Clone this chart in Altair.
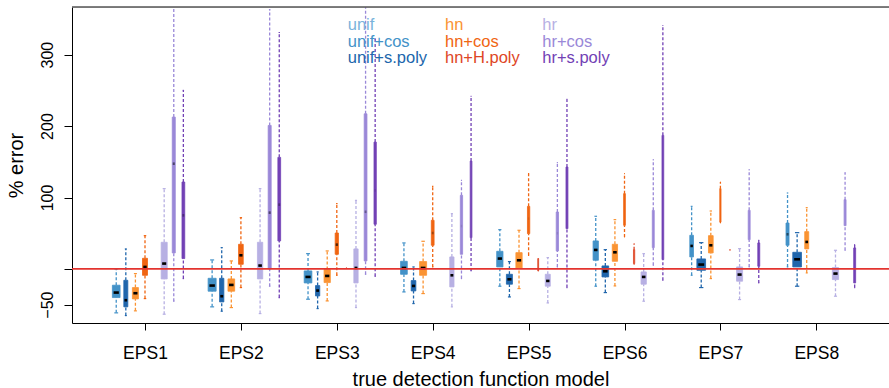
import math
import altair as alt
import pandas as pd

groups = ["EPS1", "EPS2", "EPS3", "EPS4", "EPS5", "EPS6", "EPS7", "EPS8"]
models = ["unif", "unif+cos", "unif+s.poly", "hn", "hn+cos", "hn+H.poly",
          "hr", "hr+cos", "hr+s.poly"]
colors = ["#7ab3db", "#4392c8", "#2066ac", "#fa9332", "#f06512", "#de4626",
          "#b7b0e3", "#9a88d8", "#7241b5"]

N = None
# number of times each model was selected (drives box width)
n_sel = {
    "unif":        [0, 0, 0, 0, 0, 0, 0, 0],
    "unif+cos":    [78, 85, 78, 59, 52, 37, 18, 12],
    "unif+s.poly": [21, 24, 24, 29, 48, 59, 100, 100],
    "hn":          [48, 59, 52, 65, 52, 37, 29, 21],
    "hn+cos":      [33, 29, 14, 10, 7, 4, 2, 0],
    "hn+H.poly":   [0, 0, 1, 0, 1, 2, 1, 0],
    "hr":          [48, 37, 24, 24, 33, 37, 48, 52],
    "hr+cos":      [12, 12, 10, 7, 7, 5, 5, 5],
    "hr+s.poly":   [10, 10, 7, 4, 5, 4, 5, 5],
}
lower = {
    "unif":        [N] * 8,
    "unif+cos":    [-61.5, -53.1, -42.4, -32.2, -24.2, -24.2, -8.9, 2.8],
    "unif+s.poly": [-65.3, -59.2, -55.5, -48.5, -39.2, -33.1, -26.1, -24.2],
    "hn":          [-58.7, -54.1, -44.8, -34.5, -27.5, -23.8, -13.5, -5.6],
    "hn+cos":      [-41.5, -26.1, -8.9, 2.8, 19.1, 44.8, 64.3, N],
    "hn+H.poly":   [N, N, 1.0, N, -2.8, 6.5, 26.6, N],
    "hr":          [-63.4, -62.5, -54.1, -53.1, -47.6, -45.2, -42.9, -38.2],
    "hr+cos":      [-45.2, -24.2, -7.5, -13.5, 2.8, 5.1, 2.8, 26.1],
    "hr+s.poly":   [-13.5, -40.1, -10.3, -2.8, -26.1, -15.9, -19.6, -26.1],
}
q1 = {
    "unif":        [N] * 8,
    "unif+cos":    [-40.1, -31.2, -19.6, -7.5, 2.8, 12.1, 16.8, 33.1],
    "unif+s.poly": [-53.1, -46.2, -37.8, -30.8, -21.4, -11.2, -1.9, 2.8],
    "hn":          [-42.0, -31.2, -19.1, -8.9, 1.4, 10.7, 22.4, 28.0],
    "hn+cos":      [-8.9, 6.5, 20.5, 33.1, 49.4, 61.1, 65.7, N],
    "hn+H.poly":   [N, N, 1.0, N, -2.8, 7.5, 26.6, N],
    "hr":          [-14.0, -14.0, -19.6, -25.2, -24.2, -21.4, -17.2, -14.9],
    "hr+cos":      [22.4, 0.0, 11.2, 20.5, 25.2, 29.8, 41.0, 60.6],
    "hr+s.poly":   [14.5, 39.2, 62.5, 43.8, 56.4, 13.1, 3.7, -19.6],
}
median = {
    "unif":        [N] * 8,
    "unif+cos":    [-33.1, -23.3, -11.2, 1.4, 14.5, 26.6, 32.2, 48.5],
    "unif+s.poly": [-43.8, -38.2, -30.3, -23.8, -14.5, -3.3, 6.1, 13.5],
    "hn":          [-34.0, -22.4, -9.8, 1.4, 12.1, 23.3, 33.1, 37.8],
    "hn+cos":      [2.8, 19.1, 34.0, 50.3, 70.4, 85.0, 90.0, N],
    "hn+H.poly":   [N, N, 1.0, N, 5.0, 18.0, 26.6, N],
    "hr":          [7.5, 4.7, 1.4, -8.9, -16.8, -11.2, -7.9, -6.5],
    "hr+cos":      [147.3, 78.8, 80.0, 60.0, 50.0, 55.0, 60.0, 80.0],
    "hr+s.poly":   [75.0, 90.0, 110.0, 95.0, 95.0, 100.0, 20.0, 5.0],
}
q3 = {
    "unif":        [N] * 8,
    "unif+cos":    [-22.8, -13.1, -2.8, 10.7, 24.7, 39.2, 47.1, 64.3],
    "unif+s.poly": [-15.9, -13.1, -23.3, -16.3, -7.5, 4.2, 14.0, 23.3],
    "hn":          [-26.1, -14.0, -0.9, 10.3, 22.8, 34.5, 46.6, 52.2],
    "hn+cos":      [14.9, 34.5, 50.3, 68.1, 87.6, 105.4, 112.4, N],
    "hn+H.poly":   [N, N, 1.0, N, 14.5, 27.0, 26.6, N],
    "hr":          [37.3, 37.3, 28.0, 16.8, -7.5, -4.2, 2.8, 1.9],
    "hr+cos":      [212.6, 200.9, 217.2, 103.0, 79.7, 82.0, 82.0, 97.0],
    "hr+s.poly":   [121.7, 156.2, 177.6, 151.0, 142.7, 187.0, 36.4, 29.4],
}
upper = {
    "unif":        [N] * 8,
    "unif+cos":    [0.0, 12.6, 21.4, 36.4, 55.0, 73.7, 87.6, 106.3],
    "unif+s.poly": [28.0, 29.8, -4.2, 2.8, 10.3, 27.0, 36.8, 50.8],
    "hn":          [-6.5, 11.2, 25.2, 38.7, 54.1, 69.0, 81.1, 85.8],
    "hn+cos":      [46.6, 71.8, 91.4, 115.6, 133.3, 133.3, 121.7, N],
    "hn+H.poly":   [N, N, 1.0, N, 14.5, 35.4, 26.6, N],
    "hr":          [112.4, 112.4, 96.0, 77.4, 15.9, 21.4, 28.4, 26.1],
    "hr+cos":      [400.0, 363.0, 400.0, 124.0, 148.7, 152.9, 138.9, 134.7],
    "hr+s.poly":   [249.9, 331.0, 322.0, 241.5, 237.3, 340.8, 40.1, 34.0],
}

# ---------------- layout constants ----------------
W, H = 817, 316
SLOTS_PER_GROUP = 10
X_DOMAIN = [-3.612, 81.58]
Y_DOMAIN = [-75.7, 366.7]
BOXWEX = 0.907          # max box width in slot units
FONT = "Liberation Sans"

rows = []
for g, grp in enumerate(groups):
    for k, m in enumerate(models):
        n = n_sel[m][g]
        if not n or q1[m][g] is None:
            continue
        c = g * SLOTS_PER_GROUP + k
        hw = BOXWEX * math.sqrt(n / 100.0) / 2
        rows.append(dict(
            group=grp, model=m, center=c,
            bl=c - hw, br=c + hw,
            sl=c - hw * 0.5, sr=c + hw * 0.5,
            ml=c - hw * 0.68, mr=c + hw * 0.68,
            mop=max(0.0, min(1.0, (n - 6) / 12.0)),
            lower=lower[m][g], q1=q1[m][g], median=median[m][g],
            q3=q3[m][g], upper=upper[m][g],
        ))
df = pd.DataFrame(rows)

xs = alt.Scale(domain=X_DOMAIN, nice=False, zero=False)
ys = alt.Scale(domain=Y_DOMAIN, nice=False, zero=False)
cs = alt.Scale(domain=models, range=colors)

x_axis = alt.Axis(
    values=[g * SLOTS_PER_GROUP + 4 for g in range(len(groups))],
    labelExpr="'EPS' + (floor(datum.value / 10) + 1)",
    title="true detection function model",
    grid=False, tickSize=7, labelPadding=14, labelFontSize=17.5,
    titleFontSize=20, titleFontWeight="normal", titleY=56, titleBaseline="middle",
    domainColor="black", tickColor="black", labelColor="black", titleColor="black",
    labelFont=FONT, titleFont=FONT,
)
y_axis = alt.Axis(
    values=[-50, 0, 100, 200, 300],
    labelExpr="datum.value == 0 ? '' : (datum.value < 0 ? '\u2212' + abs(datum.value) : datum.label)",
    title="% error", grid=False, tickSize=8, labelPadding=17, labelFontSize=16,
    labelAngle=-90, labelAlign="center", labelBaseline="middle",
    titleFontSize=20, titleFontWeight="normal", titleX=-56, titleY=H / 2,
    titleAngle=-90, titleAlign="center", titleBaseline="middle",
    domainColor="black", tickColor="black", labelColor="black", titleColor="black",
    labelFont=FONT, titleFont=FONT,
)

base = alt.Chart(df)
col = alt.Color("model:N", scale=cs, legend=None)

whisk_hi = base.mark_rule(strokeDash=[3, 2], strokeWidth=1.3, clip=True).encode(
    x=alt.X("center:Q", scale=xs, axis=x_axis),
    y=alt.Y("q3:Q", scale=ys, axis=y_axis),
    y2="upper:Q", color=col)
whisk_lo = base.mark_rule(strokeDash=[3, 2], strokeWidth=1.3, clip=True).encode(
    x=alt.X("center:Q", scale=xs), y=alt.Y("lower:Q", scale=ys), y2="q1:Q", color=col)
staple_hi = base.mark_rule(strokeWidth=1.2, clip=True).encode(
    x=alt.X("sl:Q", scale=xs), x2="sr:Q", y=alt.Y("upper:Q", scale=ys), color=col)
staple_lo = base.mark_rule(strokeWidth=1.2, clip=True).encode(
    x=alt.X("sl:Q", scale=xs), x2="sr:Q", y=alt.Y("lower:Q", scale=ys), color=col)
boxes = base.mark_bar(strokeWidth=0.8, clip=True).encode(
    x=alt.X("bl:Q", scale=xs), x2="br:Q",
    y=alt.Y("q1:Q", scale=ys), y2="q3:Q",
    color=col, stroke=alt.Stroke("model:N", scale=cs, legend=None))
medians = base.mark_rule(strokeWidth=2.6, color="black").encode(
    x=alt.X("ml:Q", scale=xs), x2="mr:Q", y=alt.Y("median:Q", scale=ys),
    opacity=alt.Opacity("mop:Q", scale=None))

zero_line = alt.Chart(pd.DataFrame({"v": [0]})).mark_rule(
    color="#e3342f", strokeWidth=1.8).encode(y=alt.Y("v:Q", scale=ys))

top_border = alt.Chart(pd.DataFrame({"v": [0]})).mark_rule(
    color="#555555", strokeWidth=1.5).encode(
    x=alt.value(0), x2=alt.value(W), y=alt.value(0))

leg_rows = []
for i, m in enumerate(models):
    leg_rows.append(dict(model=m, px=275.7 + (i // 3) * 97.3, py=18 + (i % 3) * 16.65))
leg_df = pd.DataFrame(leg_rows)
legend_text = alt.Chart(leg_df).mark_text(
    align="left", baseline="middle", fontSize=16.5, font=FONT).encode(
    x=alt.X("px:Q", scale=None), y=alt.Y("py:Q", scale=None),
    text="model:N", color=col)

chart = alt.layer(
    whisk_hi, whisk_lo, staple_hi, staple_lo, boxes, medians,
    zero_line, top_border, legend_text,
).properties(
    width=W, height=H,
    autosize=alt.AutoSizeParams(type="none"),
    padding={"left": 72, "top": 7, "right": 0, "bottom": 65},
).configure_view(strokeWidth=0).configure(background="white")

chart.save("out.html", embed_options={"renderer": "svg", "actions": False})
